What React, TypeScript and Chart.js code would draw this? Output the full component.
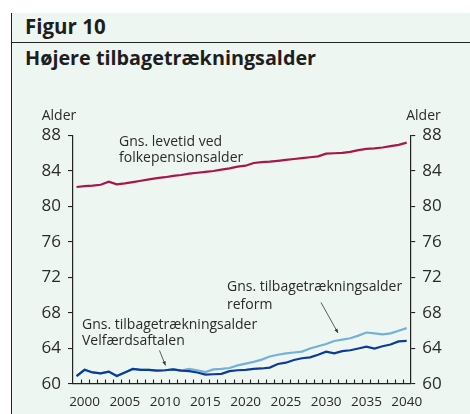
import React, { useEffect, useRef } from "react";
import { Chart, registerables } from "chart.js";

Chart.register(...registerables);

const years = [
  1999, 2000, 2001, 2002, 2003, 2004, 2005, 2006, 2007, 2008,
  2009, 2010, 2011, 2012, 2013, 2014, 2015, 2016, 2017, 2018,
  2019, 2020, 2021, 2022, 2023, 2024, 2025, 2026, 2027, 2028,
  2029, 2030, 2031, 2032, 2033, 2034, 2035, 2036, 2037, 2038,
  2039, 2040,
];

// Gns. levetid ved folkepensionsalder
const levetid = [
  82.2, 82.3, 82.35, 82.45, 82.8, 82.5, 82.6, 82.75, 82.9, 83.05,
  83.2, 83.3, 83.45, 83.55, 83.7, 83.8, 83.9, 84.0, 84.15, 84.3,
  84.5, 84.6, 84.9, 85.0, 85.05, 85.15, 85.25, 85.35, 85.45, 85.55,
  85.65, 85.95, 86.0, 86.05, 86.15, 86.35, 86.5, 86.55, 86.65, 86.8,
  86.95, 87.2,
];

// Gns. tilbagetrækningsalder, Velfærdsaftalen
const velfaerd = [
  60.9, 61.6, 61.3, 61.2, 61.4, 60.9, 61.3, 61.7, 61.6, 61.6,
  61.5, 61.55, 61.65, 61.5, 61.45, 61.3, 61.05, 61.1, 61.15, 61.45,
  61.55, 61.6, 61.7, 61.75, 61.85, 62.25, 62.4, 62.7, 62.9, 63.0,
  63.3, 63.65, 63.45, 63.7, 63.8, 64.0, 64.2, 64.0, 64.25, 64.45,
  64.8, 64.85,
];

// Gns. tilbagetrækningsalder, reform
const reform = [
  60.9, 61.6, 61.3, 61.2, 61.4, 60.9, 61.3, 61.7, 61.6, 61.6,
  61.5, 61.55, 61.65, 61.5, 61.7, 61.55, 61.35, 61.65, 61.7, 61.8,
  62.1, 62.3, 62.5, 62.75, 63.1, 63.3, 63.45, 63.55, 63.65, 64.0,
  64.25, 64.5, 64.85, 65.0, 65.15, 65.45, 65.8, 65.7, 65.6, 65.7,
  66.0, 66.3,
];

const xTickLabels = [2000, 2005, 2010, 2015, 2020, 2025, 2030, 2035, 2040];
const yTickLabels = [60, 64, 68, 72, 76, 80, 84, 88];

const FONT = "'Open Sans', 'DejaVu Sans', sans-serif";
const TEXT = "#2a2a2a";
const AXIS = "#222222";
const BG = "#eef6f1";

const toPoints = (vals: number[]) => years.map((y, i) => ({ x: y, y: vals[i] }));

export default function App() {
  const ref = useRef<HTMLCanvasElement | null>(null);

  useEffect(() => {
    document.body.style.margin = "0";
    const canvas = ref.current;
    if (!canvas) return;

    const annot = {
      id: "annot",
      afterDraw(chart: any) {
        const ctx = chart.ctx as CanvasRenderingContext2D;
        const xs = chart.scales.x;
        const ys = chart.scales.y;
        ctx.save();
        // minor year ticks on x axis (pointing up)
        ctx.strokeStyle = AXIS;
        ctx.lineWidth = 1.1;
        const bottom = ys.bottom;
        for (let i = 0; i < years.length - 1; i++) {
          const px = Math.round(xs.getPixelForValue(years[i] + 0.5)) + 0.5;
          ctx.beginPath();
          ctx.moveTo(px, bottom);
          ctx.lineTo(px, bottom - 4.5);
          ctx.stroke();
        }

        // axis titles
        ctx.fillStyle = TEXT;
        ctx.font = `14px ${FONT}`;
        ctx.textBaseline = "middle";
        ctx.textAlign = "center";
        ctx.fillText("Alder", 59, 116);
        ctx.fillText("Alder", 423.5, 116);

        // annotations
        ctx.textAlign = "left";
        ctx.fillText("Gns. levetid ved", 119, 142);
        ctx.fillText("folkepensionsalder", 119, 158.5);
        ctx.fillText("Gns. tilbagetrækningsalder", 227, 287);
        ctx.fillText("reform", 227, 305);
        ctx.fillText("Gns. tilbagetrækningsalder", 82, 325);
        ctx.fillText("Velfærdsaftalen", 82, 341.5);

        // arrows
        const arrow = (x1: number, y1: number, x2: number, y2: number) => {
          ctx.strokeStyle = "#333";
          ctx.fillStyle = "#333";
          ctx.lineWidth = 0.8;
          ctx.beginPath();
          ctx.moveTo(x1, y1);
          ctx.lineTo(x2, y2);
          ctx.stroke();
          const a = Math.atan2(y2 - y1, x2 - x1);
          const L = 4.5;
          const w = 0.4;
          ctx.beginPath();
          ctx.moveTo(x2, y2);
          ctx.lineTo(x2 - L * Math.cos(a - w), y2 - L * Math.sin(a - w));
          ctx.lineTo(x2 - L * Math.cos(a + w), y2 - L * Math.sin(a + w));
          ctx.closePath();
          ctx.fill();
        };
        arrow(159.5, 350.5, 165.5, 365.5);
        arrow(321, 302.5, 338, 333);
        ctx.restore();
      },
    };

    const yScale = (position: "left" | "right", width: number) => ({
      type: "linear" as const,
      position,
      min: 60,
      max: 88,
      afterBuildTicks: (s: any) => {
        s.ticks = yTickLabels.map((v) => ({ value: v }));
      },
      afterFit: (s: any) => {
        s.width = width;
      },
      ticks: {
        color: TEXT,
        font: { family: FONT, size: 17 },
        padding: 7,
        callback: (v: any) => String(v),
      },
      grid: {
        display: true,
        drawOnChartArea: false,
        drawTicks: true,
        tickLength: 4.5,
        color: AXIS,
        lineWidth: 1.1,
      },
      border: { display: true, color: AXIS, width: 1.2 },
    });

    const chart = new Chart(canvas, {
      type: "line",
      data: {
        datasets: [
          {
            label: "Velfærdsaftalen",
            data: toPoints(velfaerd),
            borderColor: "#0b3d96",
            borderWidth: 2.2,
            pointRadius: 0,
            tension: 0,
            yAxisID: "y",
          },
          {
            label: "Reform",
            data: toPoints(reform),
            borderColor: "#73b1d9",
            borderWidth: 2.2,
            pointRadius: 0,
            tension: 0,
            yAxisID: "y",
          },
          {
            label: "Levetid",
            data: toPoints(levetid),
            borderColor: "#a8164a",
            borderWidth: 2.2,
            pointRadius: 0,
            tension: 0,
            yAxisID: "y",
          },
        ],
      },
      options: {
        responsive: false,
        maintainAspectRatio: false,
        animation: false,
        devicePixelRatio: 1,
        layout: { padding: { top: 135.5, left: 0, right: 0, bottom: 0 } },
        plugins: {
          legend: { display: false },
          tooltip: { enabled: false },
        },
        scales: {
          x: {
            type: "linear",
            min: 1998.5,
            max: 2040.5,
            afterBuildTicks: (s: any) => {
              s.ticks = xTickLabels.map((v) => ({ value: v }));
            },
            afterFit: (s: any) => {
              s.height = 30;
            },
            ticks: {
              color: TEXT,
              font: { family: FONT, size: 13.5 },
              padding: 2,
              maxRotation: 0,
              autoSkip: false,
              callback: (v: any) => String(v),
            },
            grid: { display: false },
            border: { display: true, color: AXIS, width: 1.2 },
          },
          y: yScale("left", 72.5),
          y2: yScale("right", 59.3),
        },
      } as any,
      plugins: [annot],
    });

    return () => chart.destroy();
  }, []);

  return (
    <div
      style={{
        position: "fixed",
        left: 0,
        top: 0,
        width: 470,
        height: 414,
        background: "#ffffff",
        overflow: "hidden",
      }}
    >
      <div
        style={{
          position: "absolute",
          left: 11,
          top: 13,
          right: 0,
          bottom: 0,
          background: BG,
          borderLeft: "1.3px solid #222",
        }}
      />
      <div
        style={{
          position: "absolute",
          left: 11,
          top: 42,
          right: 0,
          height: 1.2,
          background: "#222",
        }}
      />
      <div
        style={{
          position: "absolute",
          left: 25,
          top: 16,
          fontFamily: FONT,
          fontWeight: 700,
          fontSize: 20.5,
          lineHeight: "20.5px",
          color: "#1e1e1e",
          whiteSpace: "nowrap",
        }}
      >
        Figur 10
      </div>
      <div
        style={{
          position: "absolute",
          left: 25,
          top: 47.5,
          fontFamily: FONT,
          fontWeight: 700,
          fontSize: 19.8,
          lineHeight: "19.8px",
          color: "#1e1e1e",
          whiteSpace: "nowrap",
        }}
      >
        Højere tilbagetrækningsalder
      </div>
      <canvas
        ref={ref}
        width={470}
        height={414}
        style={{ position: "absolute", left: 0, top: 0, width: 470, height: 414 }}
      />
    </div>
  );
}
